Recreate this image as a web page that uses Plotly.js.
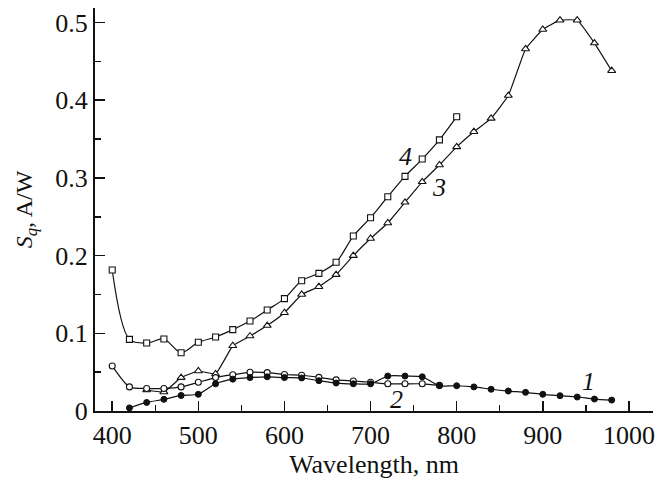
<!DOCTYPE html>
<html>
<head>
<meta charset="utf-8">
<script src="https://cdn.plot.ly/plotly-3.0.1.min.js"></script>
<style>html,body{margin:0;padding:0;background:#fff;}#chart{width:671px;height:479px;}</style>
</head>
<body>
<div id="chart"></div>
<script>
// Spectral sensitivity S_q (A/W) versus wavelength (nm), four samples
const wl1 = [420,440,460,480,500,520,540,560,580,600,620,640,660,680,700,720,740,760,780,800,820,840,860,880,900,920,940,960,980];
const sq1 = [0.004,0.011,0.015,0.020,0.0215,0.035,0.041,0.043,0.044,0.043,0.0425,0.039,0.036,0.035,0.035,0.045,0.045,0.044,0.0326,0.0325,0.031,0.028,0.0257,0.024,0.0215,0.0197,0.018,0.0154,0.014];

const wl2 = [400,420,440,460,480,500,520,540,560,580,600,620,640,660,680,700,720,740,760,780];
const sq2 = [0.058,0.031,0.029,0.029,0.031,0.037,0.043,0.0467,0.0498,0.0494,0.047,0.046,0.0433,0.040,0.0386,0.037,0.035,0.035,0.035,0.033];

const wl3 = [440,460,480,500,520,540,560,580,600,620,640,660,680,700,720,740,760,780,800,820,840,860,880,900,920,940,960,980];
const sq3 = [0.027,0.0245,0.043,0.0515,0.0476,0.084,0.0965,0.110,0.1265,0.150,0.160,0.1755,0.200,0.222,0.242,0.2686,0.295,0.3166,0.340,0.3595,0.3767,0.406,0.466,0.491,0.503,0.503,0.4736,0.438];

const wl4 = [400,420,440,460,480,500,520,540,560,580,600,620,640,660,680,700,720,740,760,780,800];
const sq4 = [0.1815,0.0922,0.0875,0.0927,0.075,0.0884,0.0952,0.1047,0.1158,0.130,0.1446,0.1677,0.1772,0.1914,0.2252,0.2488,0.2758,0.302,0.3243,0.349,0.3788];

const curveLabels = [
  {text: '4', x: 740, y: 0.327},
  {text: '3', x: 779, y: 0.288},
  {text: '1', x: 953, y: 0.038},
  {text: '2', x: 730, y: 0.015}
];

const serif = 'Liberation Serif';
const ink = '#111';
const lineStyle = {color: ink, width: 1.2};

const traces = [
  {x: wl4, y: sq4, mode: 'lines+markers', line: Object.assign({shape: 'spline', smoothing: 0.9}, lineStyle),
   marker: {symbol: 'square', size: 6, color: '#fff', line: {color: ink, width: 1.1}}},
  {x: wl3, y: sq3, mode: 'lines+markers', line: Object.assign({shape: 'spline', smoothing: 0.3}, lineStyle),
   marker: {symbol: 'triangle-up', size: 7, color: '#fff', line: {color: ink, width: 1.1}}},
  {x: wl2, y: sq2, mode: 'lines+markers', line: Object.assign({shape: 'spline', smoothing: 0.7}, lineStyle),
   marker: {symbol: 'circle', size: 6, color: '#fff', line: {color: ink, width: 1.1}}},
  {x: wl1, y: sq1, mode: 'lines+markers', line: Object.assign({shape: 'spline', smoothing: 0.7}, lineStyle),
   marker: {symbol: 'circle', size: 6, color: ink, line: {color: ink, width: 1}}}
];

const tickFont = {family: serif, size: 26, color: ink};

const layout = {
  width: 671, height: 479,
  margin: {l: 95, r: 18, t: 8, b: 68},
  paper_bgcolor: '#fff', plot_bgcolor: '#fff',
  showlegend: false,
  font: {family: serif, size: 26, color: ink},
  xaxis: {
    range: [380, 1028], showgrid: false, zeroline: false,
    showline: true, linecolor: ink, linewidth: 2,
    tickmode: 'linear', tick0: 400, dtick: 100,
    ticks: 'inside', ticklen: 10, tickwidth: 1.5, tickcolor: ink,
    minor: {tick0: 400, dtick: 50, ticks: 'inside', ticklen: 6, tickwidth: 1.5, tickcolor: ink},
    tickfont: tickFont,
    title: {text: 'Wavelength, nm', font: tickFont, standoff: 0}
  },
  yaxis: {
    range: [0, 0.5187], showgrid: false, zeroline: false,
    showline: true, linecolor: ink, linewidth: 2,
    tickmode: 'array', tickvals: [0, 0.1, 0.2, 0.3, 0.4, 0.5], ticktext: ['0', '0.1', '0.2', '0.3', '0.4', '0.5'],
    ticks: 'inside', ticklen: 10, tickwidth: 1.5, tickcolor: ink,
    minor: {tickvals: [0.05, 0.15, 0.25, 0.35, 0.45], ticks: 'inside', ticklen: 6, tickwidth: 1.5, tickcolor: ink},
    tickfont: tickFont,
    title: {text: '<i>S</i><sub><i>q</i></sub>, A/W', font: {family: serif, size: 24, color: ink}, standoff: 16}
  },
  annotations: curveLabels.map(l => ({
    x: l.x, y: l.y, xref: 'x', yref: 'y', text: '<i>' + l.text + '</i>', showarrow: false,
    font: {family: serif, size: 26, color: ink}
  }))
};

Plotly.newPlot('chart', traces, layout, {displayModeBar: false, staticPlot: true});
</script>
</body>
</html>
